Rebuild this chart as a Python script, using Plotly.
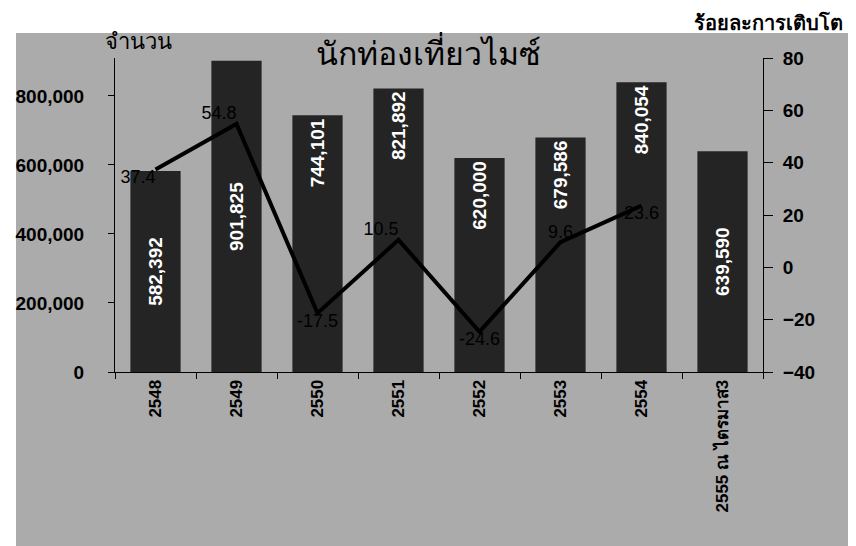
import plotly.graph_objects as go

categories = ["2548", "2549", "2550", "2551", "2552", "2553", "2554", "2555 ณ ไตรมาส3"]
tourists = [582392, 901825, 744101, 821892, 620000, 679586, 840054, 639590]
growth = [37.4, 54.8, -17.5, 10.5, -24.6, 9.6, 23.6, None]
growth_labels = ["37.4", "54.8", "-17.5", "10.5", "-24.6", "9.6", "23.6", ""]

left_ticks = [0, 200000, 400000, 600000, 800000]
right_ticks = [-40, -20, 0, 20, 40, 60, 80]

# styling per point (not data)
bar_anchor_end = [False, False, True, True, True, True, True, False]
line_text_pos = ["bottom left", "top left", "bottom center", "top left",
                 "bottom center", "top center", "bottom center", "top center"]

BG = "#ababab"
BAR = "#242424"
FONT = "Liberation Sans, Arial, sans-serif"

fig = go.Figure()

for anchor in (False, True):
    xs = [c for c, a in zip(categories, bar_anchor_end) if a == anchor]
    ys = [v for v, a in zip(tourists, bar_anchor_end) if a == anchor]
    fig.add_trace(go.Bar(
        x=xs, y=ys, offsetgroup="g", marker=dict(color=BAR, line=dict(width=0)),
        text=[f"{v:,}" for v in ys], textposition="inside",
        insidetextanchor="end" if anchor else "middle",
        textangle=-90, cliponaxis=False,
        textfont=dict(color="white", size=19, family=FONT, weight="bold"),
        showlegend=False, hoverinfo="skip",
    ))

fig.add_trace(go.Scatter(
    x=categories, y=growth, yaxis="y2", mode="lines+text",
    line=dict(color="black", width=4),
    text=growth_labels, textposition=line_text_pos,
    textfont=dict(color="black", size=18, family=FONT),
    showlegend=False, hoverinfo="skip", cliponaxis=False,
))

L, R, T, B = 107, 101, 50, 182
W, H = 856, 546
pw, ph = W - L - R, H - T - B

def px(xp):
    return (xp - L) / pw

def py(yp):
    return (H - B - yp) / ph

fig.update_layout(
    width=W, height=H,
    margin=dict(l=L, r=R, t=T, b=B, autoexpand=False),
    paper_bgcolor="white", plot_bgcolor=BG,
    bargap=0.38, barmode="group",
    font=dict(family=FONT, color="black"),
    xaxis=dict(
        type="category", categoryorder="array", categoryarray=categories,
        tickangle=-90, showgrid=False, showline=True,
        linecolor="black", linewidth=1, ticks="outside", ticklen=6,
        tickcolor="black", tickson="boundaries",
        tickfont=dict(size=17, family=FONT, color="black", weight="bold"),
    ),
    yaxis=dict(
        range=[0, 910000], tickvals=left_ticks, tickformat=",d",
        showgrid=False, showline=True, linecolor="black", linewidth=1,
        ticks="outside", ticklen=6, tickcolor="black", zeroline=False,
        ticklabelstandoff=20,
        tickfont=dict(size=19, family=FONT, color="black", weight="bold"),
    ),
    yaxis2=dict(
        overlaying="y", side="right", range=[-40, 80], tickvals=right_ticks,
        showgrid=False, showline=True, linecolor="black", linewidth=1,
        ticks="outside", ticklen=9, tickcolor="black", zeroline=False,
        ticklabelstandoff=6,
        tickfont=dict(size=19, family=FONT, color="black", weight="bold"),
    ),
    shapes=[dict(type="rect", xref="paper", yref="paper", layer="below",
                 x0=px(8), x1=px(852), y0=py(543), y1=py(25),
                 fillcolor=BG, line=dict(width=0))],
    annotations=[
        dict(text="นักท่องเที่ยวไมซ์", xref="paper", yref="paper",
             x=px(420), y=py(45), showarrow=False, xanchor="center", yanchor="middle",
             font=dict(size=32, color="black", family="Noto Sans, sans-serif")),
        dict(text="จำนวน", xref="paper", yref="paper",
             x=px(130), y=py(32), showarrow=False, xanchor="center", yanchor="middle",
             font=dict(size=22, color="black", family="Noto Sans, sans-serif")),
        dict(text="<b>ร้อยละการเติบโต</b>", xref="paper", yref="paper",
             x=px(760), y=py(14), showarrow=False, xanchor="center", yanchor="middle",
             font=dict(size=20, color="black", family="Noto Sans, sans-serif")),
    ],
)

fig.write_html("out.html")
